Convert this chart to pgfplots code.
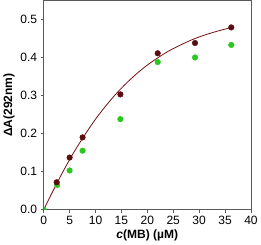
\documentclass[border=0pt]{standalone}
\usepackage{pgfplots}
\pgfplotsset{compat=1.18}
\usepackage{fontspec}
\setmainfont{Liberation Sans}
\definecolor{brownpt}{RGB}{90,12,14}
\definecolor{brownln}{RGB}{120,16,18}
\definecolor{greenpt}{RGB}{40,200,30}
\definecolor{frame}{RGB}{90,90,90}
\begin{document}
\begin{tikzpicture}
\begin{axis}[
  scale only axis,
  width=206bp, height=208bp,
  xmin=0, xmax=40, ymin=0, ymax=0.55,
  xtick={0,5,...,40}, ytick={0,0.1,...,0.5},
  yticklabel style={/pgf/number format/.cd,fixed,fixed zerofill,precision=1},
  /pgf/number format/assume math mode=true,
  tick align=outside, major tick length=3bp,
  tick style={frame, line width=0.6pt},
  axis line style={frame, line width=0.8pt},
  xtick pos=bottom, ytick pos=left,
  ticklabel style={font=\fontsize{12}{12}\selectfont},
  xlabel={\textbf{\textit{c}(MB) (\textmu M)}},
  ylabel={\textbf{ΔA(292nm)}},
  label style={font=\fontsize{12}{12}\selectfont},
  xlabel style={yshift=2bp},
  ylabel style={yshift=-1bp},
  clip=true, clip marker paths=true,
]
\addplot[brownln, line width=0.8pt, smooth] coordinates {
(0,0) (2,0.055) (4,0.107) (6,0.155) (8,0.198) (10,0.238) (12,0.273) (14,0.305)
(16,0.333) (18,0.358) (20,0.38) (22,0.399) (24,0.416) (26,0.43) (28,0.443)
(30,0.454) (32,0.463) (34,0.471) (36,0.478)};
\addplot[only marks, mark=*, mark size=2.8bp, greenpt, mark options={draw=greenpt, fill=greenpt}] coordinates {
(0,0) (2.6,0.065) (5,0.103) (7.5,0.155) (14.8,0.238) (22,0.388) (29.2,0.4) (36.2,0.433)};
\addplot[only marks, mark=*, mark size=2.8bp, brownpt, mark options={draw=brownpt, fill=brownpt}] coordinates {
(2.5,0.072) (5,0.137) (7.5,0.19) (14.8,0.303) (22,0.411) (29.2,0.438) (36.2,0.479)};
\end{axis}
\end{tikzpicture}
\end{document}
